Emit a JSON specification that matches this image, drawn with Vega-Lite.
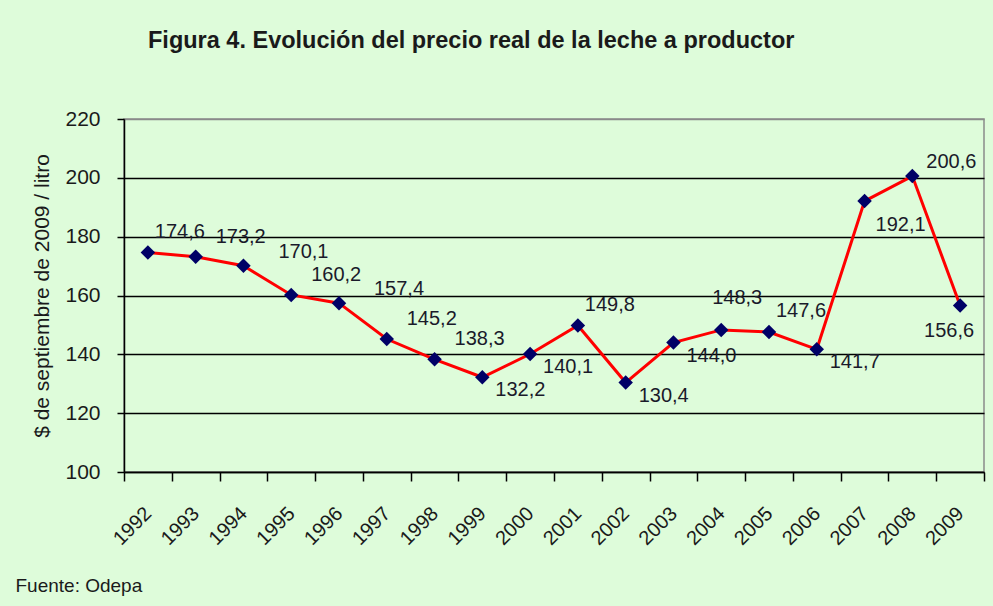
{
  "$schema": "https://vega.github.io/schema/vega-lite/v6.json",
  "width": 860,
  "height": 353,
  "autosize": {"type": "none"},
  "padding": {"left": 124, "top": 119, "right": 9, "bottom": 134},
  "background": "#DEFCDA",
  "title": {
    "text": "Figura 4. Evolución del precio real de la leche a productor",
    "anchor": "start",
    "frame": "group",
    "dx": 24,
    "offset": 37,
    "baseline": "alphabetic",
    "font": "Liberation Sans",
    "fontSize": 23.5,
    "fontWeight": "bold",
    "color": "#1a1a1a"
  },
  "config": {
    "locale": {"number": {"decimal": ",", "thousands": ".", "grouping": [3], "currency": ["$", ""]}},
    "font": "Liberation Sans",
    "view": {"fill": "#DEFCDA", "stroke": "#8a8a8a", "strokeWidth": 1.5}
  },
  "data": {
    "values": [
      {"year": "1992", "precio": 174.6},
      {"year": "1993", "precio": 173.2},
      {"year": "1994", "precio": 170.1},
      {"year": "1995", "precio": 160.2},
      {"year": "1996", "precio": 157.4},
      {"year": "1997", "precio": 145.2},
      {"year": "1998", "precio": 138.3},
      {"year": "1999", "precio": 132.2},
      {"year": "2000", "precio": 140.1},
      {"year": "2001", "precio": 149.8},
      {"year": "2002", "precio": 130.4},
      {"year": "2003", "precio": 144.0},
      {"year": "2004", "precio": 148.3},
      {"year": "2005", "precio": 147.6},
      {"year": "2006", "precio": 141.7},
      {"year": "2007", "precio": 192.1},
      {"year": "2008", "precio": 200.6},
      {"year": "2009", "precio": 156.6}
    ]
  },
  "encoding": {
    "x": {
      "field": "year",
      "type": "ordinal",
      "scale": {"type": "band", "paddingInner": 0, "paddingOuter": 0},
      "axis": {
        "title": "Fuente: Odepa",
        "titleFontSize": 19,
        "titleFontWeight": "normal",
        "titleColor": "#1a1a1a",
        "titleAnchor": "start",
        "titleAlign": "left",
        "titleX": -109,
        "titleY": 104,
        "labelAngle": -45,
        "labelFontSize": 20,
        "labelColor": "#1a1a1a",
        "labelPadding": 22,
        "labelOffset": -7,
        "tickBand": "extent",
        "tickSize": 9,
        "tickColor": "#000000",
        "tickWidth": 1.5,
        "domainColor": "#000000",
        "domainWidth": 1.5,
        "grid": false
      }
    },
    "y": {
      "field": "precio",
      "type": "quantitative",
      "scale": {"domain": [100, 220], "nice": false, "zero": false},
      "axis": {
        "title": "$ de septiembre de 2009 / litro",
        "titleFontSize": 21,
        "titleFontWeight": "normal",
        "titleColor": "#1a1a1a",
        "titlePadding": 12,
        "values": [100, 120, 140, 160, 180, 200, 220],
        "labelFontSize": 21,
        "labelColor": "#1a1a1a",
        "labelPadding": 17,
        "tickSize": 7,
        "tickColor": "#000000",
        "tickWidth": 1.5,
        "domainColor": "#000000",
        "domainWidth": 1.5,
        "grid": true,
        "gridColor": {"condition": {"test": "datum.value == 220", "value": "#8a8a8a"}, "value": "#000000"},
        "gridWidth": 1.3
      }
    }
  },
  "layer": [
    {"mark": {"type": "line", "color": "#FF0000", "strokeWidth": 3}},
    {"mark": {"type": "point", "shape": "diamond", "filled": true, "size": 210, "color": "#000066", "opacity": 1}},
    {
      "transform": [{"filter": {"field": "year", "oneOf": ["1992", "2001", "2005"]}}],
      "mark": {"type": "text", "fontSize": 20, "color": "#1a1a2a", "align": "center", "baseline": "middle", "dx": 32, "dy": -21},
      "encoding": {"text": {"field": "precio", "type": "quantitative", "format": ".1f"}}
    },
    {
      "transform": [{"filter": {"field": "year", "oneOf": ["1993", "1995", "1997", "1998"]}}],
      "mark": {"type": "text", "fontSize": 20, "color": "#1a1a2a", "align": "center", "baseline": "middle", "dx": 45, "dy": -20},
      "encoding": {"text": {"field": "precio", "type": "quantitative", "format": ".1f"}}
    },
    {
      "transform": [{"filter": {"field": "year", "oneOf": ["1994", "1996"]}}],
      "mark": {"type": "text", "fontSize": 20, "color": "#1a1a2a", "align": "center", "baseline": "middle", "dx": 60, "dy": -14},
      "encoding": {"text": {"field": "precio", "type": "quantitative", "format": ".1f"}}
    },
    {
      "transform": [{"filter": {"field": "year", "oneOf": ["1999", "2000", "2002", "2003", "2006"]}}],
      "mark": {"type": "text", "fontSize": 20, "color": "#1a1a2a", "align": "center", "baseline": "middle", "dx": 38, "dy": 13},
      "encoding": {"text": {"field": "precio", "type": "quantitative", "format": ".1f"}}
    },
    {
      "transform": [{"filter": {"field": "year", "oneOf": ["2004"]}}],
      "mark": {"type": "text", "fontSize": 20, "color": "#1a1a2a", "align": "center", "baseline": "middle", "dx": 16, "dy": -32},
      "encoding": {"text": {"field": "precio", "type": "quantitative", "format": ".1f"}}
    },
    {
      "transform": [{"filter": {"field": "year", "oneOf": ["2007"]}}],
      "mark": {"type": "text", "fontSize": 20, "color": "#1a1a2a", "align": "center", "baseline": "middle", "dx": 36, "dy": 24},
      "encoding": {"text": {"field": "precio", "type": "quantitative", "format": ".1f"}}
    },
    {
      "transform": [{"filter": {"field": "year", "oneOf": ["2008"]}}],
      "mark": {"type": "text", "fontSize": 20, "color": "#1a1a2a", "align": "center", "baseline": "middle", "dx": 39, "dy": -14},
      "encoding": {"text": {"field": "precio", "type": "quantitative", "format": ".1f"}}
    },
    {
      "transform": [{"filter": {"field": "year", "oneOf": ["2009"]}}],
      "mark": {"type": "text", "fontSize": 20, "color": "#1a1a2a", "align": "center", "baseline": "middle", "dx": -11, "dy": 25},
      "encoding": {"text": {"field": "precio", "type": "quantitative", "format": ".1f"}}
    }
  ]
}
